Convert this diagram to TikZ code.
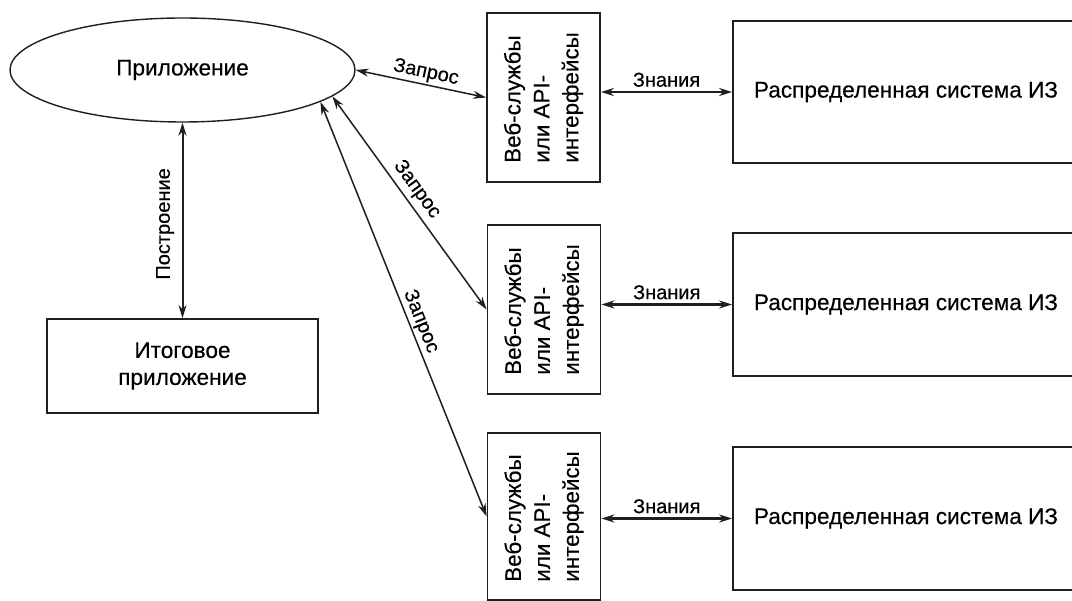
\documentclass[tikz,border=0pt]{standalone}
\usepackage{fontspec}
\setmainfont{Liberation Sans}[UprightFeatures={FakeBold=0.35}]
\usetikzlibrary{arrows.meta,shapes.geometric}

\begin{document}
\begin{tikzpicture}[x=1pt,y=-1pt,
  frame/.style={draw=black!88, line width=1.8pt, inner sep=0pt},
  maintext/.style={font=\fontsize{22.6}{27}\selectfont},
  webtext/.style={font=\fontsize{22.4}{29}\selectfont, rotate=90, align=left, inner sep=0pt},
  lbl/.style={font=\fontsize{20}{24}\selectfont, inner sep=0pt},
  both/.style={draw=black!88, {Stealth[length=13pt,width=8pt]}-{Stealth[length=13pt,width=8pt]}},
  req/.style={both, line width=1.5pt},
  know/.style={both, line width=2.3pt},
]
\clip (0,0) rectangle (1072,601);
\fill[white] (0,0) rectangle (1072,601);

% application and the final application built from it
\node[ellipse, draw=black!88, line width=1.4pt, minimum width=345pt, minimum height=104pt,
      inner sep=0pt, maintext] (app) at (182.5,70) {Приложение};
\node[frame, minimum width=271pt, minimum height=94pt, maintext, align=center]
      (fin) at (182.5,366) {Итоговое\\приложение};

% web services / API layer
\node[frame, minimum width=113pt, minimum height=169pt] (w1) at (543.5,97.5) {};
\node[frame, minimum width=113pt, minimum height=169pt] (w2) at (544,309.5) {};
\node[frame, minimum width=113pt, minimum height=167pt] (w3) at (544,516.5) {};
\foreach \w in {w1,w2,w3}
  \node[webtext] at (\w.center) {Веб-службы\\или API-\\интерфейсы};

% distributed knowledge systems
\node[frame, minimum width=346pt, minimum height=142pt, maintext] (k1) at (906,92) {Распределенная система ИЗ};
\node[frame, minimum width=346pt, minimum height=143pt, maintext] (k2) at (906,304.5) {Распределенная система ИЗ};
\node[frame, minimum width=346pt, minimum height=143pt, maintext] (k3) at (906,518.5) {Распределенная система ИЗ};

% knowledge exchange
\draw[know] (w1.east |- k1.west) -- node[lbl, above=4pt] {Знания} (k1.west);
\draw[know] (w2.east |- k2.west) -- node[lbl, above=4pt] {Знания} (k2.west);
\draw[know] (w3.east |- k3.west) -- node[lbl, above=4pt] {Знания} (k3.west);

% requests from the application
\draw[req] (app.east) -- node[lbl, pos=0.52, sloped, above=2pt] {Запрос} (w1.west);
\draw[req] (app.-10) -- node[lbl, pos=0.475, sloped, above=4pt] {Запрос} (w2.west);
\draw[req] (app.-13.3) -- node[lbl, pos=0.54, sloped, above=1.5pt] {Запрос} (w3.west);

% building the final application
\draw[both, line width=2pt] (app.south) -- node[lbl, pos=0.518, rotate=90, above=7.5pt] {Построение} (fin.north);
\end{tikzpicture}
\end{document}
